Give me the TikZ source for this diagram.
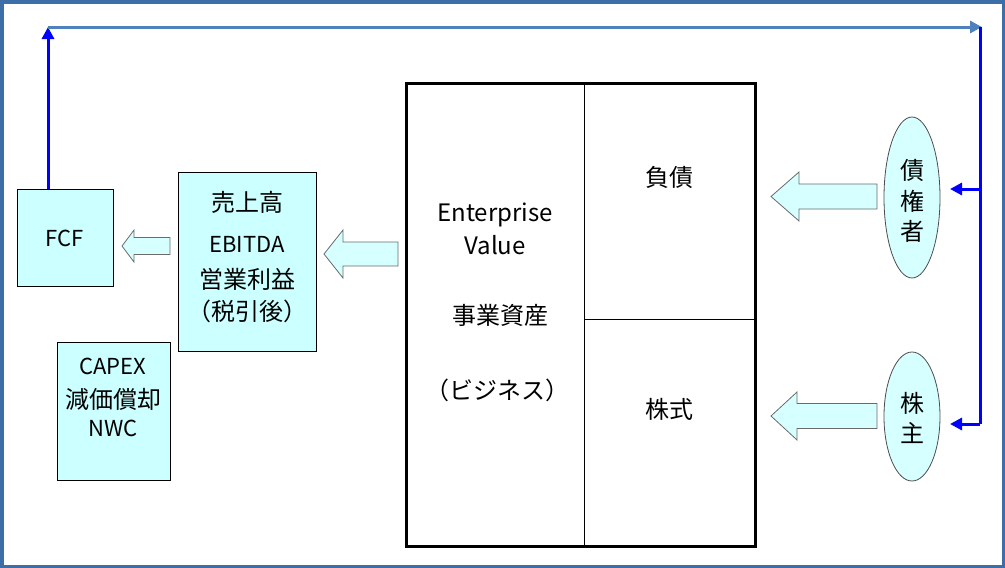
\documentclass[tikz,border=0pt]{standalone}
\usepackage{fontspec}
\setmainfont{Noto Sans CJK JP}
\usetikzlibrary{arrows.meta,shapes.geometric}
\definecolor{frameblue}{HTML}{3C6EA8}
\definecolor{lineblue}{HTML}{4F81BD}
\definecolor{pureblue}{HTML}{0000FF}
\definecolor{boxfill}{HTML}{CCFFFF}
\definecolor{arrfill}{HTML}{D6FFFF}
\definecolor{arredge}{HTML}{6A6A6A}
\newcommand\blockarrow[6]{\draw[blockarr] (#1,#3) -- (#6,#3-#5) -- (#6,#3-#4) -- (#2,#3-#4) -- (#2,#3+#4) -- (#6,#3+#4) -- (#6,#3+#5) -- cycle;}
\begin{document}
\begin{tikzpicture}[x=1pt,y=-1pt,
  every node/.style={font=\fontsize{24}{28}\selectfont, inner sep=0pt},
  caps/.style={font=\fontsize{22}{26}\selectfont},
  lightbox/.style={draw=black, line width=0.9pt, fill=boxfill},
  party/.style={ellipse, draw=black!70, line width=0.8pt, fill=arrfill},
  blockarr/.style={draw=arredge, line width=0.8pt, fill=arrfill},
  flowline/.style={pureblue, line width=3pt},
  tip/.style={-{Triangle[length=12pt,width=12pt]}}]
\useasboundingbox (0,0) rectangle (1005,568);
\draw[frameblue, line width=3.5pt] (1.75,1.75) rectangle (1003.25,566.25);

% boxes
\node[lightbox, minimum width=96pt, minimum height=97pt] (fcf) at (65,237.5) {};
\node[caps] (fcft) at (65,238) {FCF};
\node[lightbox, minimum width=138pt, minimum height=179pt] (sales) at (247,261.5) {};
\node (s1) at (247,202) {売上高};
\node[caps] (s2) at (247,244) {EBITDA};
\node (s3) at (247,279) {営業利益};
\node (s4) at (247,311) {（税引後）};
\node[lightbox, minimum width=113pt, minimum height=138pt] (capex) at (113.5,411) {};
\node[caps] (c1) at (113,366) {CAPEX};
\node (c2) at (113,399) {減価償却};
\node[caps] (c3) at (113,428) {NWC};

% enterprise value box
\node[draw=black, line width=3pt, minimum width=349pt, minimum height=463pt] (ev) at (580.5,314.5) {};
\coordinate (dtop) at (584,83);
\coordinate (dbot) at (584,546);
\coordinate (dmid) at (584,319);
\coordinate (dright) at (755,319);
\draw[line width=0.8pt] (dtop) -- (dbot);
\draw[line width=0.8pt] (dmid) -- (dright);
\node (e1) at (495,215) {Enterprise};
\node (e2) at (495,245) {Value};
\node (e3) at (500,315) {事業資産};
\node (e4) at (497,390) {（ビジネス）};
\node (debt) at (669,177) {負債};
\node (equity) at (669,409) {株式};

% parties
\node[party, minimum width=56pt, minimum height=161pt] (creditor) at (912,197.5) {};
\node (cr1) at (912,170) {債};
\node (cr2) at (912,201) {権};
\node (cr3) at (912,231) {者};
\node[party, minimum width=56pt, minimum height=129pt] (holder) at (912,416.5) {};
\node (h1) at (912,403) {株};
\node (h2) at (912,433) {主};

% block arrows
\blockarrow{122}{170}{246}{8.5}{16}{134}
\blockarrow{324}{398}{254}{12}{24}{343}
\blockarrow{771}{877}{196.5}{12.5}{24.5}{799}
\blockarrow{771}{877}{416}{12.5}{24}{797}

% connectors
\coordinate (tl) at (48,27);
\coordinate (tr) at (982,27);
\coordinate (rtop) at (980,27);
\coordinate (rmid) at (980,189);
\coordinate (rbot) at (980,424);
\coordinate (crin) at (950,189);
\coordinate (hin) at (950,424);
\draw[flowline, tip] ([xshift=-17pt]fcf.north) -- (tl);
\draw[lineblue, line width=3pt, tip] (tl) -- (tr);
\draw[flowline] (rtop) -- (rbot);
\draw[flowline, tip] (rmid) -- (crin);
\draw[flowline, tip] (rbot) -- (hin);
\end{tikzpicture}
\end{document}
